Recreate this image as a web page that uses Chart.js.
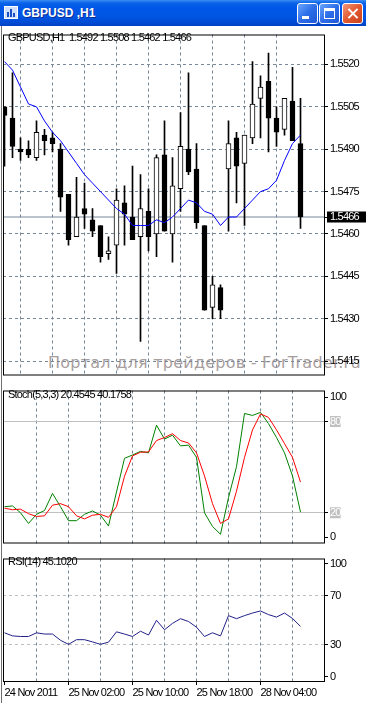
<!DOCTYPE html>
<html>
<head>
<meta charset="utf-8">
<title>GBPUSD,H1</title>
<script src="https://cdn.jsdelivr.net/npm/chart.js@4.4.0/dist/chart.umd.min.js"></script>
<style>
body { margin: 0; width: 366px; height: 703px; background: #fff; overflow: hidden; position: relative; }
canvas { position: absolute; left: 0; }
#titlebar { position: absolute; left: 0; top: 0; width: 366px; height: 26px;
  background: linear-gradient(to bottom, #3d8df5 0px, #0a63e8 3px, #0058e8 7px, #0055e3 16px, #004dd6 22px, #0042c2 26px); }
#ttl { position: absolute; left: 22px; top: 6px; color: #fff; font: bold 12px 'Liberation Sans', Arial, sans-serif;
  text-shadow: 1px 1px 0 #0b2f9a; white-space: pre; }
#ico { position: absolute; left: 4px; top: 6px; width: 14px; height: 13px; background: #cfe0ff; border: 1px solid #fff; box-sizing: border-box; }
#ico i { position: absolute; bottom: 1px; width: 2px; background: #1b4fc4; }
.btn { position: absolute; top: 3px; width: 21px; height: 21px; box-sizing: border-box; border: 1px solid #fff; border-radius: 3px;
  background: linear-gradient(135deg, #6aa6ff 0%, #2d6ee8 50%, #1f58d6 100%); }
.cls { background: linear-gradient(135deg, #f3987a 0%, #e2582f 50%, #c9421d 100%); }
.btn b { position: absolute; background: #fff; }
#wm { position: absolute; left: 48px; top: 355px; font: 16px 'DejaVu Sans', sans-serif; line-height: 16px; letter-spacing: 0.25px; color: #a89e9e; white-space: pre; }
.lbl { position: absolute; left: 8px; font: 11px 'Liberation Sans', sans-serif; letter-spacing: -0.8px; line-height: 13px; color: #000; white-space: pre; }
#edge { position: absolute; left: 1px; top: 26px; width: 1px; height: 677px; background: #707070; }
</style>
</head>
<body>
<div id="titlebar">
  <div id="ico"><i style="left:2px;height:5px"></i><i style="left:5px;height:8px"></i><i style="left:8px;height:4px"></i></div>
  <div id="ttl">GBPUSD ,H1</div>
  <div class="btn" style="left:297px"><b style="left:4px;top:12px;width:7px;height:3px"></b></div>
  <div class="btn" style="left:319px"><b style="left:4px;top:4px;width:11px;height:3px"></b><b style="left:4px;top:4px;width:1px;height:11px"></b><b style="left:14px;top:4px;width:1px;height:11px"></b><b style="left:4px;top:14px;width:11px;height:1px"></b></div>
  <div class="btn cls" style="left:342px"><b style="left:9px;top:3px;width:2px;height:13px;transform:rotate(45deg)"></b><b style="left:9px;top:3px;width:2px;height:13px;transform:rotate(-45deg)"></b></div>
</div>
<div id="edge"></div>
<div id="wm">Портал для трейдеров - ForTrader.ru</div>
<canvas id="mainChart" width="366" height="356" style="top:27px"></canvas>
<canvas id="stochChart" width="366" height="168" style="top:383px"></canvas>
<canvas id="rsiChart" width="366" height="152" style="top:551px"></canvas>
<div class="lbl" id="mainLbl" style="top:31px"></div>
<div class="lbl" id="stochLbl" style="top:388px"></div>
<div class="lbl" id="rsiLbl" style="top:555px"></div>
<script>
// GBPUSD H1 candles, one per hour
var opens  = [1.5505, 1.5501, 1.5490, 1.5490, 1.5487, 1.5495, 1.5494, 1.5490, 1.5474, 1.5459,
              1.5469, 1.5465, 1.5463, 1.5453, 1.5456, 1.5471, 1.5466, 1.5459, 1.5468, 1.5460,
              1.5488, 1.5460, 1.5476, 1.5490, 1.5483, 1.5463, 1.5434, 1.5441, 1.5483, 1.5494,
              1.5485, 1.5494, 1.5508, 1.5514, 1.5501, 1.5497, 1.5507, 1.5492];
var highs  = [1.5505, 1.5517, 1.5494, 1.5493, 1.5500, 1.5497, 1.5496, 1.5492, 1.5474, 1.5480,
              1.5478, 1.5469, 1.5463, 1.5459, 1.5476, 1.5477, 1.5484, 1.5481, 1.5476, 1.5488,
              1.5500, 1.5487, 1.5503, 1.5517, 1.5492, 1.5463, 1.5445, 1.5442, 1.5500, 1.5496,
              1.5495, 1.5521, 1.5516, 1.5524, 1.5505, 1.5508, 1.5519, 1.5508];
var lows   = [1.5484, 1.5487, 1.5486, 1.5487, 1.5486, 1.5488, 1.5489, 1.5468, 1.5456, 1.5459,
              1.5462, 1.5459, 1.5450, 1.5451, 1.5446, 1.5456, 1.5458, 1.5422, 1.5454, 1.5452,
              1.5461, 1.5450, 1.5468, 1.5481, 1.5462, 1.5433, 1.5430, 1.5430, 1.5461, 1.5471,
              1.5463, 1.5492, 1.5494, 1.5489, 1.5491, 1.5495, 1.5493, 1.5462];
var closes = [1.5502, 1.5491, 1.5489, 1.5488, 1.5496, 1.5493, 1.5492, 1.5473, 1.5458, 1.5466,
              1.5467, 1.5461, 1.5452, 1.5454, 1.5472, 1.5467, 1.5458, 1.5469, 1.5459, 1.5487,
              1.5461, 1.5477, 1.5491, 1.5482, 1.5464, 1.5433, 1.5442, 1.5433, 1.5492, 1.5484,
              1.5495, 1.5506, 1.5512, 1.5501, 1.5496, 1.5508, 1.5493, 1.5466];
// moving average (blue line)
var maValues = [1.5521, 1.5518, 1.5512, 1.5506, 1.5505, 1.5500, 1.5496, 1.5493, 1.5489, 1.5485,
                1.5481, 1.5478, 1.5475, 1.5472, 1.5469, 1.5467, 1.5463, 1.5463, 1.5463, 1.5465,
                1.5464, 1.5466, 1.5469, 1.5472, 1.5471, 1.5468, 1.5467, 1.5463, 1.5466, 1.5466,
                1.5469, 1.5472, 1.5475, 1.5476, 1.5479, 1.5486, 1.5492, 1.5495];
// Stochastic(5,3,3)
var stochMain = [24, 24.5, 20, 13, 19, 21.5, 32.7, 24, 14.8, 14.8,
                 19, 21.2, 18.4, 11.3, 33.7, 55.8, 58, 60.4, 59.4, 77.6,
                 68.5, 71, 64, 64.5, 56.4, 20, 11, 5.9, 30, 50.3,
                 85.3, 84, 86, 78.6, 69.5, 59.4, 44.2, 20.4545];
var stochSignal = [23, 22, 22.4, 19.4, 17.6, 18, 25, 26, 24, 18,
                   16, 18.4, 19, 17, 24, 44, 57.4, 59.8, 60, 67.5,
                   69.5, 72, 67.5, 65.9, 59.4, 44.2, 26, 13, 16, 34.2,
                   56.4, 74.5, 85, 82.7, 74.5, 65.5, 56.4, 40.1758];
// RSI(14)
var rsiValues = [39.9, 37.4, 36.9, 36.9, 39.9, 38.9, 38.9, 33.8, 30.5, 34.3,
                 34.3, 32.5, 30.5, 32.3, 40.7, 38.9, 36.9, 41.2, 38.1, 50.1,
                 42.4, 47.6, 51.4, 49.1, 44.5, 36.9, 39.9, 37.4, 53.9, 51.4,
                 53.9, 56, 57.7, 54.7, 52.7, 56, 51.6, 45.102];

var priceTicks = [1.5415, 1.5430, 1.5445, 1.5460, 1.5475, 1.5490, 1.5505, 1.5520];
var dateLabels = ['24 Nov 2011', '25 Nov 02:00', '25 Nov 10:00', '25 Nov 18:00', '28 Nov 04:00'];
var stochLevels = [20, 80];
var rsiLevels = [30, 70];

var xMin = -0.1875, xMax = 40.0625;
var gridColor = '#778899';
var axisFont = { family: "'Liberation Sans', sans-serif", size: 11, lineHeight: 1 };
var lastClose = closes[closes.length - 1];

Chart.defaults.font.family = axisFont.family;
Chart.defaults.font.size = 11;

// black frame round each plot area, tighter text like the terminal font
var framePlugin = {
    id: 'frame',
    beforeUpdate: function (chart) { chart.ctx.letterSpacing = '-0.8px'; },
    beforeDraw: function (chart) { chart.ctx.letterSpacing = '-0.8px'; },
    afterDraw: function (chart) {
        var a = chart.chartArea, c = chart.ctx;
        c.save();
        c.strokeStyle = '#000';
        c.lineWidth = 1;
        c.strokeRect(a.left + 0.5, a.top + 0.5, a.right - a.left - 1, a.bottom - a.top - 1);
        c.restore();
    }
};

// shared time axis, grid every 4 bars, label every 8
function timeAxis(showLabels) {
    return {
        type: 'linear', min: xMin, max: xMax, offset: false,
        afterBuildTicks: function (s) {
            var t = [];
            for (var v = 0; v < closes.length; v += 4) t.push({ value: v });
            s.ticks = t;
        },
        afterFit: function (s) { s.height = showLabels ? 20 : 0; },
        grid: {
            color: function (c) { return c.tick && c.tick.value > 0 ? gridColor : 'transparent'; },
            drawTicks: showLabels, tickLength: 3,
            tickColor: function (c) { return c.tick && c.tick.value % 8 === 0 ? '#000' : 'transparent'; }
        },
        border: { display: false, dash: [3, 3] },
        ticks: {
            display: showLabels, autoSkip: false, maxRotation: 0, align: 'start', padding: 2, color: '#000', font: axisFont,
            callback: function (v) { return v % 8 === 0 ? dateLabels[v / 8] : ''; }
        }
    };
}

// indicator axis: level lines plus 0 / 100 labels pulled inside the frame
function levelAxis(min, max, levels, lineColor, dash, boxed) {
    var inset = 4;
    return {
        position: 'right', min: min, max: max,
        afterBuildTicks: function (s) {
            var t = [{ value: 0 + inset, edge: '0' }];
            levels.forEach(function (v) { t.push({ value: v }); });
            t.push({ value: 100 - inset, edge: '100' });
            s.ticks = t;
        },
        afterFit: function (s) { s.width = 41; },
        grid: {
            color: function (c) { return c.tick && c.tick.edge ? 'transparent' : lineColor; },
            tickLength: 3, tickColor: '#000'
        },
        border: { display: false, dash: dash },
        ticks: {
            padding: 2, font: axisFont,
            color: function (c) { return boxed && c.tick && !c.tick.edge ? '#fff' : '#000'; },
            showLabelBackdrop: function (c) { return boxed && c.tick && !c.tick.edge; },
            backdropColor: '#c0c0c0', backdropPadding: 0,
            callback: function (v, i, ticks) { return ticks[i].edge || String(v); }
        }
    };
}

function baseOptions(scales, padTop) {
    return {
        responsive: false, maintainAspectRatio: false, animation: false,
        layout: { padding: { left: 3, top: padTop, bottom: 1, right: 0 } },
        plugins: { legend: { display: false }, tooltip: { enabled: false } },
        scales: scales
    };
}

function drawMain() {
    var bodies = [], wicks = [], bodyColors = [];
    closes.forEach(function (c, i) {
        bodies.push({ x: i, y: [opens[i], c] });
        wicks.push({ x: i, y: [lows[i], highs[i]] });
        bodyColors.push(c > opens[i] ? '#fff' : '#000');
    });
    var ctx = document.getElementById('mainChart').getContext('2d');
    new Chart(ctx, {
        type: 'bar',
        data: {
            datasets: [
                { type: 'line', data: maValues.map(function (v, i) { return { x: i, y: v }; }),
                  borderColor: '#0000ff', borderWidth: 1, pointRadius: 0, tension: 0, order: 0 },
                { type: 'bar', data: bodies, backgroundColor: bodyColors, borderColor: '#000', borderWidth: 1,
                  borderSkipped: false, barThickness: 5, grouped: false, minBarLength: 1, order: 1 },
                { type: 'bar', data: wicks, backgroundColor: '#000', barThickness: 1, grouped: false, order: 2 },
                { type: 'line', data: [{ x: xMin, y: lastClose }, { x: xMax, y: lastClose }],
                  borderColor: gridColor, borderWidth: 1, pointRadius: 0, order: 3 }
            ]
        },
        options: baseOptions({
            x: timeAxis(false),
            y: {
                position: 'right', min: 1.54099, max: 1.55306,
                afterBuildTicks: function (s) {
                    s.ticks = priceTicks.concat([lastClose]).map(function (v) { return { value: v }; });
                },
                afterFit: function (s) { s.width = 41; },
                grid: {
                    color: function (c) { return c.tick && c.tick.value === lastClose ? 'transparent' : gridColor; },
                    tickLength: 3, tickColor: '#000'
                },
                border: { display: false, dash: [3, 3] },
                ticks: {
                    padding: 2, font: axisFont,
                    color: function (c) { return c.tick && c.tick.value === lastClose ? '#fff' : '#000'; },
                    showLabelBackdrop: function (c) { return c.tick && c.tick.value === lastClose; },
                    backdropColor: '#000', backdropPadding: { left: 3, right: 8, top: 0, bottom: 0 },
                    callback: function (v) { return v.toFixed(4); }
                }
            }
        }, 2),
        plugins: [framePlugin]
    });
    document.getElementById('mainLbl').textContent = 'GBPUSD,H1  ' +
        [opens[37], highs[37], lows[37], lastClose].map(function (v) { return v.toFixed(4); }).join(' ');
}

function drawStoch() {
    var ctx = document.getElementById('stochChart').getContext('2d');
    new Chart(ctx, {
        type: 'line',
        data: {
            datasets: [
                { data: stochSignal.map(function (v, i) { return { x: i, y: v }; }),
                  borderColor: '#ff0000', borderWidth: 1, pointRadius: 0, tension: 0, order: 0 },
                { data: stochMain.map(function (v, i) { return { x: i, y: v }; }),
                  borderColor: '#008000', borderWidth: 1, pointRadius: 0, tension: 0, order: 1 }
            ]
        },
        options: baseOptions({
            x: timeAxis(false),
            y: levelAxis(-0.2, 100.4, stochLevels, '#c0c0c0', [], true)
        }, 1),
        plugins: [framePlugin]
    });
    document.getElementById('stochLbl').textContent = 'Stoch(5,3,3) ' +
        stochMain[stochMain.length - 1].toFixed(4) + ' ' + stochSignal[stochSignal.length - 1].toFixed(4);
}

function drawRsi() {
    var ctx = document.getElementById('rsiChart').getContext('2d');
    new Chart(ctx, {
        type: 'line',
        data: {
            datasets: [
                { data: rsiValues.map(function (v, i) { return { x: i, y: v }; }),
                  borderColor: '#20208a', borderWidth: 1, pointRadius: 0, tension: 0 }
            ]
        },
        options: baseOptions({
            x: timeAxis(true),
            y: levelAxis(-0.15, 100.4, rsiLevels, '#c0c0c0', [3, 3], false)
        }, 1),
        plugins: [framePlugin]
    });
    document.getElementById('rsiLbl').textContent = 'RSI(14) ' + rsiValues[rsiValues.length - 1].toFixed(4);
}

drawMain();
drawStoch();
drawRsi();
</script>
</body>
</html>
